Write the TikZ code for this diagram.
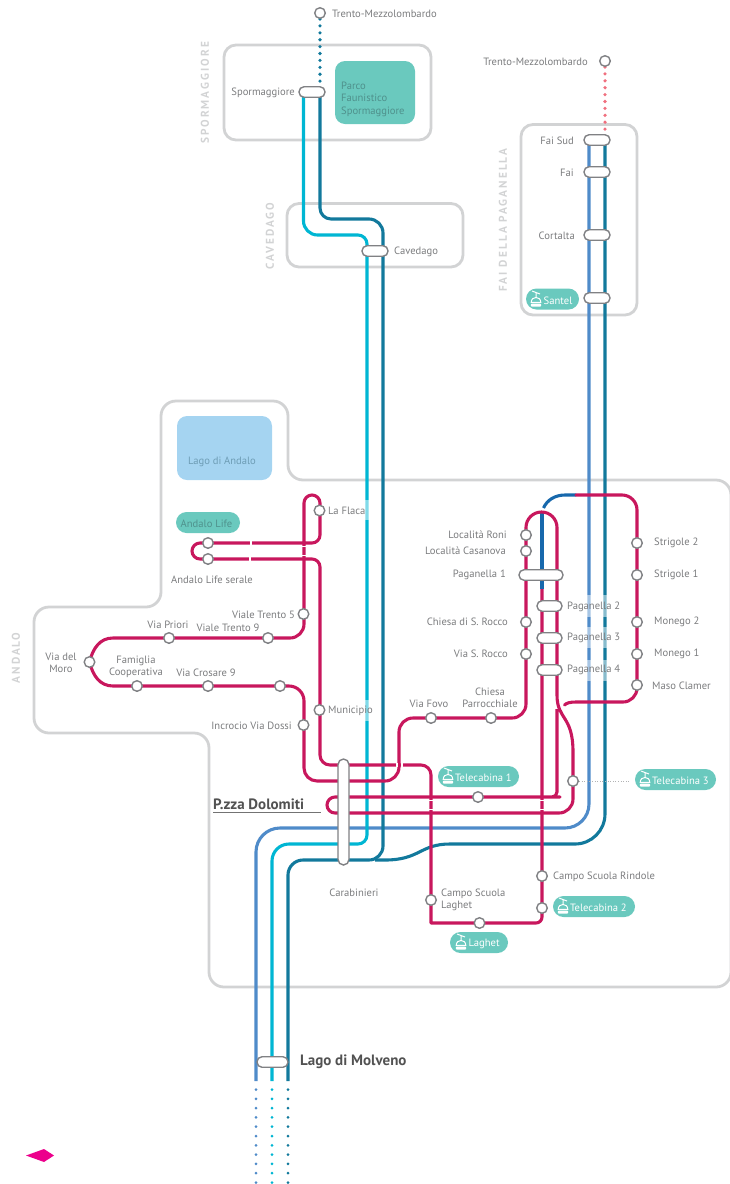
\documentclass[tikz,border=0pt]{standalone}
\usepackage{fontspec}
\setmainfont{PT Sans}
\usetikzlibrary{calc}
\pgfdeclarelayer{back}\pgfdeclarelayer{tracks}
\pgfsetlayers{back,tracks,main}
\definecolor{gbox}{HTML}{D2D3D4}
\definecolor{teala}{HTML}{6AC9BE}
\definecolor{lake}{HTML}{A5D4F1}
\definecolor{lakeT}{HTML}{6E9DB5}
\definecolor{tealT}{HTML}{4F918C}
\definecolor{crim}{HTML}{C8175D}
\definecolor{dteal}{HTML}{12799C}
\definecolor{cyanl}{HTML}{00B6D3}
\definecolor{bluel}{HTML}{4F8BC9}
\definecolor{navy}{HTML}{1768AC}
\definecolor{pinkd}{HTML}{F0707F}
\definecolor{markc}{HTML}{EC008C}
\definecolor{txt}{HTML}{7B7C7E}
\definecolor{stopg}{HTML}{808184}
\tikzset{
 x=1pt,y=-1pt,
 area/.style={draw=gbox,line width=2.8pt,rounded corners=12pt},
 trk/.style={line width=3.1pt,line join=round},
 dotl/.style={line width=3.6pt,line cap=round,dash pattern=on 0pt off 6.9pt},
 stopc/.style={circle,draw=stopg,fill=white,line width=1.4pt,inner sep=0,minimum size=10.6pt},
 pill/.style={rectangle,rounded corners=5pt,draw=stopg,fill=white,line width=1.4pt,inner sep=0,minimum height=10.5pt},
 lbl/.style={text=txt,font=\fontsize{10.6}{12.6}\selectfont,inner sep=0,yshift=-.8pt},
 wlbl/.style={text=white,font=\fontsize{10.6}{12.6}\selectfont,inner sep=0,anchor=west,yshift=-.8pt},
 tlbl/.style={text=tealT,font=\fontsize{10.6}{12.8}\selectfont,inner sep=0,yshift=-.8pt},
 blbl/.style={text=black!68,font=\fontsize{15}{17}\bfseries\selectfont,inner sep=0},
 zone/.style={text=gbox,rotate=90,inner sep=0,font=\fontsize{11.3}{13}\bfseries\addfontfeature{LetterSpace=18}\selectfont},
 tpill/.style={rectangle,fill=teala,rounded corners=10.5pt,minimum height=21pt,inner sep=0},
 veil/.style={fill=white,opacity=.5,draw=none},
 tick/.style={draw=white,line width=1.1pt},
 gondola/.pic={
  \draw[white,line width=1pt] (-4.8,3.4) .. controls (-4.8,-3.2) and (4.8,-3.2) .. (4.8,3.4) -- cycle;
  \draw[white,line width=1pt] (0,-2) -- (0,-6) (-4,-8) -- (4,-5);
  \fill[white,rounded corners=1pt] (-5.2,4.6) rectangle (5.2,7.6);
 }
}
\begin{document}
\begin{tikzpicture}
\useasboundingbox (0,0) rectangle (729,1184);
% stops
\foreach \n/\x/\y in {tm1/320/13,tm2/605/61,flaca/319.5/510.5,ls1/208/543,ls2/208/559,vt5/303.5/614,vpri/169/638,vt9/268/638,moro/89.5/662,fam/137/686,cros/208/686,cdz/280/686,dossi/303.5/725,muni/319.5/710,roni/526/535,casa/526/551,rocco/526/622,vsr/526/654,fovo/431/718,parr/491/718,str2/637/543,str1/637/575,mon2/637/622,mon1/637/654,maso/637/685,st1/478/797,st3/573/781,rind/542/876,st2/542/908,cslag/431/900,slag/479.5/923}
  \node[stopc] (\n) at (\x,\y) {};
\foreach \n/\x/\y/\w in {spo/312/92/26,cav/375/251/26,fs/597/140/26,fa/597/172/26,cor/597/235/26,san/597/298/26,pg1/541/575/44,pg2/549.5/606/25,pg3/549.5/638/25,pg4/549.5/670/25,mol/272.5/1062/31}
  \node[pill,minimum width=\w pt] (\n) at (\x,\y) {};
\node[pill,minimum width=11pt,minimum height=106pt,rounded corners=5.5pt] (dol) at (343.5,812) {};
\coordinate (eb) at (256,1081); \coordinate (ec) at (272,1081); \coordinate (ed) at (288,1081);
\coordinate (db) at (256,1184); \coordinate (dc) at (272,1184); \coordinate (dd) at (288,1184);
\begin{pgfonlayer}{back}
 \draw[area] (224,45) rectangle (431,140);
 \draw[area] (287,203.5) rectangle (463,267);
 \draw[area] (521,124.5) rectangle (637,315);
 \draw[area,rounded corners=15pt] (225,401) -- (288,401) -- (288,480) -- (731,480) -- (731,987) -- (209,987) -- (209,733) -- (34,733) -- (34,607) -- (161,607) -- (161,401) -- cycle;
 \fill[teala,rounded corners=10pt] (335,61) rectangle (415,124);
 \fill[lake,rounded corners=10pt] (177,416) rectangle (272,480);
\end{pgfonlayer}
\begin{pgfonlayer}{tracks}
 % dotted
 \draw[dotl,dteal] (320,19) -- (320,87);
 \draw[dotl,pinkd] (605,67) -- (605,135);
 \draw[dotl,bluel,line width=3pt,dash pattern=on 0pt off 9.3pt] (256,1089.5) -- (db);
 \draw[dotl,cyanl,line width=3pt,dash pattern=on 0pt off 9.3pt] (272,1089.5) -- (dc);
 \draw[dotl,dteal,line width=3pt,dash pattern=on 0pt off 9.3pt] (288,1089.5) -- (dd);
 % blue
 \draw[trk,bluel,rounded corners=24pt] (589,140) -- (589,828) -- (256,828) -- (eb);
 % cyan
 \draw[trk,cyanl] (303.5,92) [rounded corners=14pt] -- (303.5,235) [rounded corners=9pt] -- (367,235) -- (367,844) [rounded corners=17pt] -- (272,844) -- (ec);
 % dark teal
 \draw[trk,dteal] (320,92) [rounded corners=11pt] -- (320,219) [rounded corners=14pt] -- (383,219) -- (383,860) [rounded corners=15pt] -- (288,860) -- (ed);
 \draw[trk,dteal] (375,860) -- (385,860) .. controls (420,860) and (420,844) .. (450,844) [rounded corners=30pt] -- (605,844) -- (605,140);
 % navy (under crimson)
 \draw[trk,navy] (576,495) -- (565,495) .. controls (555,495) and (547,500) .. (543.5,508);
 \draw[trk,navy] (542,589) -- (542,512);
 % crimson
 \draw[trk,crim] (ls1.center) [rounded corners=8pt] -- (320,543) -- (320,495) -- (304,495)
   [rounded corners=14pt] -- (304,638) [sharp corners] -- (113,638)
   .. controls (100,638) and (93,648) .. (moro.center) .. controls (93,676) and (100,686) .. (113,686)
   [rounded corners=15pt] -- (304,686) [rounded corners=13pt] -- (304,781) [rounded corners=14pt] -- (399,781) -- (399,718) -- (526,718)
   [rounded corners=15.5pt] -- (526,512) -- (557,512) [sharp corners] -- (557,695)
   .. controls (557,720) and (573,715) .. (573,752)
   [rounded corners=14pt] -- (573,813) [rounded corners=8pt] -- (327,813) -- (327,797) -- (552,797) [rounded corners=5pt] -- (557,797) -- (557,709);
 \draw[trk,crim,line cap=round] (564.5,705) .. controls (566.5,703) and (570,702) .. (576,702) [rounded corners=14pt] -- (637,702) [rounded corners=15pt] -- (637,495) -- (576,495);
 \draw[trk,crim] (ls1.center) [rounded corners=8pt] -- (192,543) -- (192,559) -- (ls2.center) -- (320,559)
   [rounded corners=10pt] -- (320,765) -- (431,765) [sharp corners] -- (431,923) -- (536,923) [rounded corners=6pt] -- (542,923) -- (542,589);
 % crossing ticks
 \foreach \y in {800.5,809.5} {\draw[tick] (429,\y) -- (433,\y); \draw[tick] (540,\y) -- (544,\y);}
 \draw[tick] (397,763) -- (397,767); \draw[tick] (402,763) -- (402,767);
 \draw[tick] (251,541) -- (251,545); \draw[tick] (250,557) -- (250,561);
 \draw[tick] (302,546.5) -- (306,546.5); \draw[tick] (302,555.5) -- (306,555.5);
 % veils under labels
 \fill[veil] (586,595) rectangle (608,617);
 \fill[veil] (586,627) rectangle (608,648);
 \fill[veil] (586,660) rectangle (608,681);
 \fill[veil] (364,500) rectangle (370,520);
 \fill[veil] (364,700) rectangle (370,721);
 % dotted grey
 \draw[gbox!85!black,line width=.9pt,dash pattern=on 1pt off 1.6pt] (st3) -- (630,781);
\end{pgfonlayer}
% labels
\node[lbl,anchor=west] (l01) at (332,13) {Trento-Mezzolombardo};
\node[lbl,anchor=east] (l02) at (588,61) {Trento-Mezzolombardo};
\node[lbl,anchor=east] (l03) at (295,92) {Spormaggiore};
\node[tlbl,anchor=west,align=left] (l04) at (341,98.5) {Parco\\Faunistico\\Spormaggiore};
\node[lbl,anchor=west] (l05) at (394,251) {Cavedago};
\node[lbl,anchor=east] (l06) at (574,140) {Fai Sud};
\node[lbl,anchor=east] (l07) at (574,172) {Fai};
\node[lbl,anchor=east] (l08) at (575,235) {Cortalta};
\node[lbl,anchor=west] (l09) at (328,510) {La Flaca};
\node[lbl] (l10) at (212,579) {Andalo Life serale};
\node[lbl,anchor=east] (l11) at (295,614) {Viale Trento 5};
\node[lbl] (l12) at (168,624) {Via Priori};
\node[lbl] (l13) at (228,627) {Viale Trento 9};
\node[lbl,align=center] (l14) at (61,662) {Via del\\Moro};
\node[lbl,align=center] (l15) at (136,666) {Famiglia\\Cooperativa};
\node[lbl] (l16) at (206,672) {Via Crosare 9};
\node[lbl,anchor=east] (l17) at (292,725) {Incrocio Via Dossi};
\node[lbl,anchor=west] (l18) at (328,710) {Municipio};
\node[tlbl,text=lakeT] (l19) at (222,461) {Lago di Andalo};
\node[lbl,anchor=east] (l20) at (507,534) {Località Roni};
\node[lbl,anchor=east] (l21) at (506,550) {Località Casanova};
\node[lbl,anchor=east] (l22) at (506,574) {Paganella 1};
\node[lbl,anchor=east] (l23) at (508,621) {Chiesa di S. Rocco};
\node[lbl,anchor=east] (l24) at (508,653) {Via S. Rocco};
\node[lbl] (l25) at (429,703) {Via Fovo};
\node[lbl,align=center] (l26) at (490,697) {Chiesa\\Parrocchiale};
\node[lbl,anchor=west] (l27) at (567,606) {Paganella 2};
\node[lbl,anchor=west] (l28) at (567,637) {Paganella 3};
\node[lbl,anchor=west] (l29) at (567,669) {Paganella 4};
\node[lbl,anchor=west] (l30) at (654,542) {Strigole 2};
\node[lbl,anchor=west] (l31) at (654,574) {Strigole 1};
\node[lbl,anchor=west] (l32) at (654,621) {Monego 2};
\node[lbl,anchor=west] (l33) at (654,653) {Monego 1};
\node[lbl,anchor=west] (l34) at (652,685) {Maso Clamer};
\node[lbl] (l35) at (354,892) {Carabinieri};
\node[lbl,anchor=west] (l36) at (553,876) {Campo Scuola Rindole};
\node[lbl,anchor=west,align=left] (l37) at (441,899) {Campo Scuola\\Laghet};
\node[blbl,anchor=west] (l38) at (213,804) {P.zza Dolomiti};
\coordinate (ua) at (213,812.5); \coordinate (ub) at (321,812.5);
\draw[black!55,line width=.7pt] (ua) -- (ub);
\node[blbl,anchor=west] (l39) at (300,1062) {Lago di Molveno};
% zones
\node[zone] (z1) at (205,93) {SPORMAGGIORE};
\node[zone] (z2) at (270,236) {CAVEDAGO};
\node[zone] (z3) at (503,220) {FAI DELLA PAGANELLA};
\node[zone] (z4) at (16,658) {ANDALO};
% teal pills
\node[tpill,minimum width=64pt] (p0) at (208,522.5) {};
\node[tlbl] (p0t) at (206.5,522.5) {Andalo Life};
\node[tpill,minimum width=53pt] (p1) at (552.5,299) {};
\pic at (536,299) {gondola};
\node[wlbl] (p1t) at (543.5,300) {Santel};
\node[tpill,minimum width=81pt] (p2) at (478.5,776.5) {};
\pic at (448,776) {gondola};
\node[wlbl] (p2t) at (455,777) {Telecabina 1};
\node[tpill,minimum width=81pt] (p3) at (675.5,779.5) {};
\pic at (645,779) {gondola};
\node[wlbl] (p3t) at (652,780) {Telecabina 3};
\node[tpill,minimum width=82pt] (p4) at (594,906.5) {};
\pic at (563,906) {gondola};
\node[wlbl] (p4t) at (570,907) {Telecabina 2};
\node[tpill,minimum width=58pt] (p5) at (479,942.5) {};
\pic at (461,942) {gondola};
\node[wlbl] (p5t) at (468.5,943) {Laghet};
% marker
\fill[markc] (26,1155.5) -- (44,1149) -- (54,1155.5) -- (44,1162) -- cycle;
\end{tikzpicture}
\end{document}
